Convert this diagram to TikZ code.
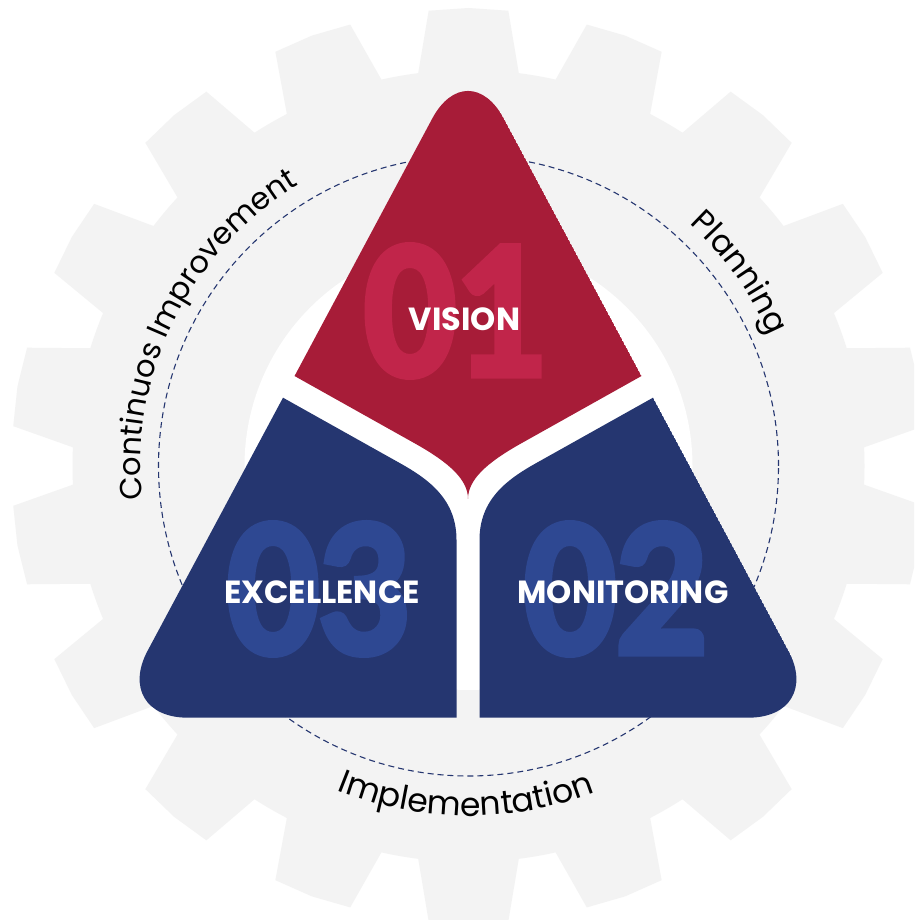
\documentclass[tikz,border=0pt]{standalone}
\usepackage{fontspec}
\setmainfont{Poppins}
\newfontfamily\digitfont{Lato}[FakeBold=4.5]
\usetikzlibrary{decorations.text}
\definecolor{visionred}{HTML}{A71C38}
\definecolor{visionlight}{HTML}{C1254A}
\definecolor{deepblue}{HTML}{253670}
\definecolor{bluelight}{HTML}{2E4892}
\definecolor{gearfill}{HTML}{F3F3F3}
\newcommand\arcfont[1]{\fontsize{#1}{38}\selectfont}
\newcommand\bignumber[1]{\scalebox{0.9}[1]{#1}}
\tikzset{bignum/.style={inner sep=0pt,font=\digitfont\bfseries\fontsize{176}{176}\selectfont},
         piecelabel/.style={inner sep=0pt,anchor=base,text=white,font=\bfseries\fontsize{32}{38}\selectfont},
         arclabel/.style={decorate,decoration={text along path,text align=center,text={#1}}},
         ring/.style={draw=deepblue,line width=1.1pt,dash pattern=on 6pt off 4pt}
}

\begin{document}
\begin{tikzpicture}[x=1pt,y=1pt]

\useasboundingbox (0,0) rectangle (914,920);
\clip (0,0) rectangle (914,920);
\fill[white] (0,0) rectangle (914,920);

\coordinate (hub) at (468.5,454);

% gear
\fill[gearfill] (hub) circle[radius=396];
\foreach \a in {90,110,...,430}
  \fill[gearfill] ([shift={(\a-7.3:396)}]hub) -- ([shift={(\a-5:457)}]hub) -- ([shift={(\a:458)}]hub)
    -- ([shift={(\a+5:457)}]hub) -- ([shift={(\a+7.3:396)}]hub) -- cycle;
\fill[white] (hub) circle[radius=224];
\draw[ring] (hub) circle[radius=310];

% triangle corners
\coordinate (apex) at (468,868.3);
\coordinate (left) at (111.8,202.3);
\coordinate (right) at (824.2,202.3);
\coordinate (redl) at (294.5,544);
\coordinate (redr) at (641.5,544);
\coordinate (bluel) at (283,522.3);
\coordinate (bluer) at (653,522.3);
\coordinate (tip) at (468,421);

\begin{scope}
\clip[rounded corners=76] (apex) -- (left) -- (right) -- cycle;
\fill[visionred] (redl) -- (apex) -- (redr) -- (521,476.5)
  .. controls (486,456.9) and (468,440) .. (tip)
  .. controls (468,440) and (450,456.9) .. (415,476.5) -- cycle;
\fill[deepblue] (bluel) -- (400,456.8) .. controls (430,440) and (456.5,420) .. (456.5,380)
  -- (456.5,202.3) -- (left) -- cycle;
\fill[deepblue] (bluer) -- (536,456.8) .. controls (506,440) and (479.5,420) .. (479.5,380)
  -- (479.5,202.3) -- (right) -- cycle;
\end{scope}

\node[bignum,text=visionlight] (numone) at (456,609) {\bignumber{01}};
\node[bignum,text=bluelight] (numthree) at (319,331) {\bignumber{03}};
\node[bignum,text=bluelight] (numtwo) at (616,331) {\bignumber{02}};

\node[piecelabel] (vision) at (464.5,589) {VISION};
\node[piecelabel] (excellence) at (322,316.5) {EXCELLENCE};
\node[piecelabel] (monitoring) at (623,316.5) {MONITORING};

% labels round the ring
\path[arclabel={|\arcfont{30.5}|Continuos Improvement}] ([shift={(199.5:328)}]hub) arc[start angle=199.5,end angle=107.5,radius=328];
\path[arclabel={|\arcfont{32}|Planning}] ([shift={(60:328)}]hub) arc[start angle=60,end angle=11,radius=328];
\path[arclabel={|\arcfont{33}|Implementation}] ([shift={(224.6:350)}]hub) arc[start angle=224.6,end angle=314.6,radius=350];

\end{tikzpicture}
\end{document}
